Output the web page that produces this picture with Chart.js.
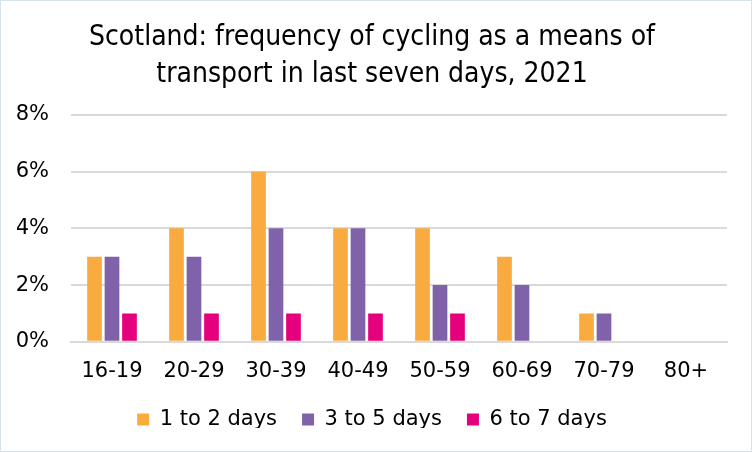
<!DOCTYPE html>
<html><head><meta charset="utf-8">
<script src="https://cdn.jsdelivr.net/npm/chart.js@4"></script>
<style>
html,body{margin:0;padding:0;background:#fff;}
#wrap{position:relative;width:752px;height:452px;box-sizing:border-box;border:1px solid #d5e3ef;}
canvas{display:block;}
</style></head><body>
<div id="wrap"><canvas id="c" width="750" height="450"></canvas></div>
<script>
const categories = ["16-19","20-29","30-39","40-49","50-59","60-69","70-79","80+"];
const oneToTwo = [3,4,6,4,4,3,1,null];
const threeToFive = [3,3,4,4,2,2,1,null];
const sixToSeven = [1,1,1,1,1,null,null,null];
const seriesNames = ["1 to 2 days","3 to 5 days","6 to 7 days"];
const titleLines = ["Scotland: frequency of cycling as a means of","transport in last seven days, 2021"];
const colors = ["#F9AB3F","#7F62AA","#E5007D"];

const legendFix = {
  id: 'legendFix',
  beforeLayout(chart) {
    const lg = chart.legend;
    if (lg && !lg._patched) {
      const f = lg.fit;
      lg.fit = function () { f.call(this); this.height -= 12; };
      lg._patched = true;
    }
  },
  afterLayout(chart) {
    const lg = chart.legend;
    if (lg) { lg.top -= 17; lg.bottom -= 17; }
  }
};

new Chart(document.getElementById('c'), {
  type: 'bar',
  data: {
    labels: categories,
    datasets: [
      {label: seriesNames[0], data: oneToTwo, backgroundColor: colors[0]},
      {label: seriesNames[1], data: threeToFive, backgroundColor: colors[1]},
      {label: seriesNames[2], data: sixToSeven, backgroundColor: colors[2]}
    ]
  },
  plugins: [legendFix],
  options: {
    responsive: false,
    animation: false,
    devicePixelRatio: 1,
    layout: {padding: {left: 16, right: 24, top: 6, bottom: 6}},
    datasets: {bar: {categoryPercentage: 0.64, barPercentage: 0.84}},
    plugins: {
      title: {display: true, text: titleLines, color: '#000',
        font: {family: 'Liberation Sans Narrow, DejaVu Sans Condensed, sans-serif', size: 28, weight: 'normal', lineHeight: 1.3},
        padding: {top: 13, bottom: 22}},
      legend: {position: 'bottom',
        labels: {color: '#000', boxWidth: 12, boxHeight: 12, padding: 25,
          font: {family: 'DejaVu Sans, sans-serif', size: 21}}},
      tooltip: {enabled: false}
    },
    scales: {
      x: {grid: {display: false, drawTicks: false}, border: {display: true, color: '#d9d9d9', width: 2},
        ticks: {color: '#000', padding: 17, font: {family: 'DejaVu Sans, sans-serif', size: 21}}},
      y: {min: 0, max: 8, grid: {color: '#d9d9d9', lineWidth: 2, drawTicks: false}, border: {display: false},
        ticks: {stepSize: 2, color: '#000', padding: 22, callback: v => v + '%',
          font: {family: 'DejaVu Sans, sans-serif', size: 21}},
        afterFit: s => { s.width = 54; }}
    }
  }
});
</script>
</body></html>
